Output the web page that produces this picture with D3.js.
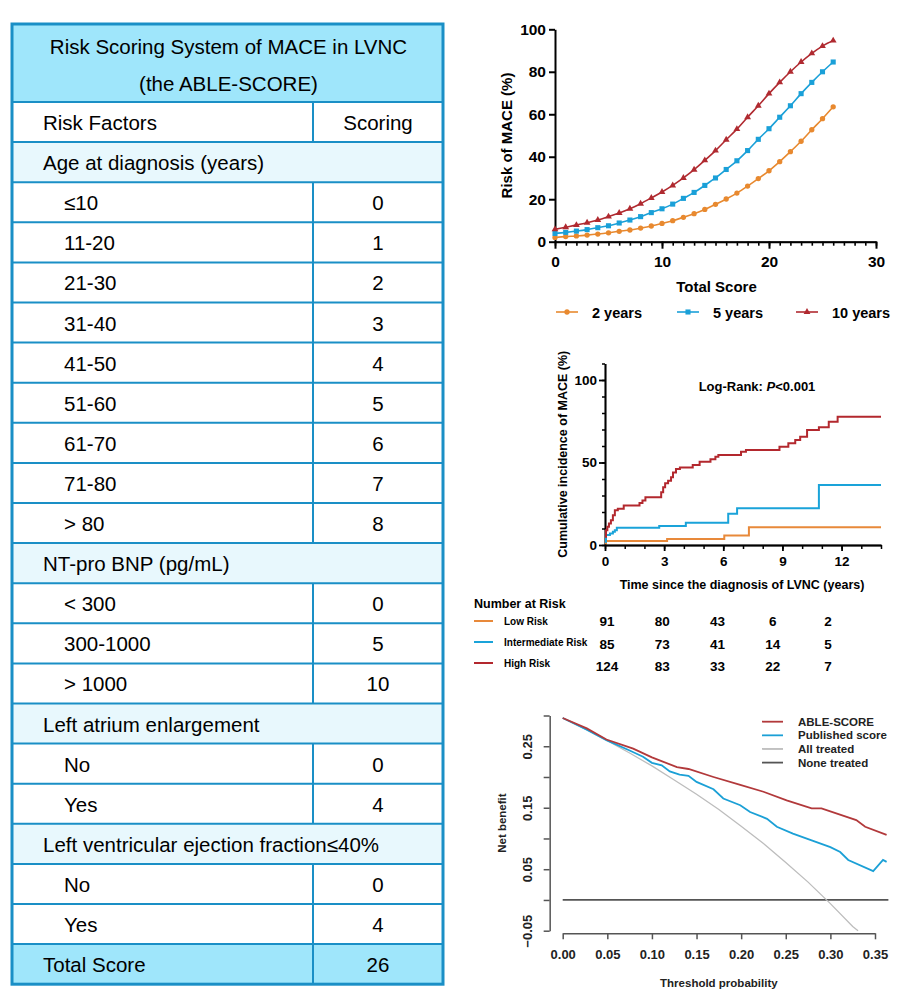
<!DOCTYPE html>
<html>
<head>
<meta charset="utf-8">
<script src="https://cdn.jsdelivr.net/npm/d3@7"></script>
<style>
  body { margin: 0; background: #fff; }
  svg { font-family: "Liberation Sans", Arial, sans-serif; }
  .bold text, text.bold { font-weight: bold; }
</style>
</head>
<body>
<svg id="fig" width="924" height="1002"></svg>
<script>
// ---- table data ----
const tableTitle = ['Risk Scoring System of MACE in LVNC', '(the ABLE-SCORE)'];
const rowLabels = ['Risk Factors', 'Age at diagnosis (years)', '≤10', '11-20', '21-30', '31-40', '41-50',
  '51-60', '61-70', '71-80', '> 80', 'NT-pro BNP (pg/mL)', '< 300', '300-1000', '> 1000',
  'Left atrium enlargement', 'No', 'Yes', 'Left ventricular ejection fraction≤40%', 'No', 'Yes', 'Total Score'];
const rowScores = ['Scoring', '', '0', '1', '2', '3', '4', '5', '6', '7', '8', '', '0', '5', '10',
  '', '0', '4', '', '0', '4', '26'];
const rowKinds = ['head', 'section', 'item', 'item', 'item', 'item', 'item', 'item', 'item', 'item', 'item',
  'section', 'item', 'item', 'item', 'section', 'item', 'item', 'section', 'item', 'item', 'total'];

// ---- risk curve data (total score 0..26) ----
const scores = d3.range(0, 27);
const risk2y = [2.0, 2.4, 2.7, 3.1, 3.6, 4.2, 4.9, 5.5, 6.4, 7.4, 8.6, 9.9, 11.5, 13.2, 15.2, 17.6, 20.1,
  22.9, 26.2, 29.7, 33.4, 37.7, 42.4, 47.3, 52.7, 57.9, 63.5];
const risk5y = [3.9, 4.4, 5.0, 5.7, 6.6, 7.5, 8.8, 10.2, 11.8, 13.7, 15.5, 17.7, 20.4, 23.2, 26.5, 30.0,
  34.0, 38.1, 42.9, 48.2, 53.2, 58.6, 64.0, 69.7, 75.0, 80.0, 84.6];
const risk10y = [5.8, 6.8, 7.8, 8.9, 10.2, 11.8, 13.5, 15.5, 17.9, 20.6, 23.4, 26.5, 30.0, 33.9, 38.3,
  42.9, 48.0, 53.0, 58.6, 64.0, 69.7, 75.0, 80.0, 84.6, 88.7, 92.1, 94.7];

// ---- Kaplan-Meier data (time in years, cumulative incidence %) ----
const kmLowT = [0, 0.05, 3.15, 6.05, 7.3, 14];
const kmLowV = [1, 2.4, 3.6, 5.7, 10.7, 10.7];
const kmIntT = [0, 0.05, 0.25, 0.4, 0.5, 0.6, 2.75, 4.1, 6.25, 6.7, 10.85, 14];
const kmIntV = [2, 6, 7, 8, 9, 10.5, 11.5, 13.5, 19, 22.2, 36.4, 36.4];
const kmHighT = [0, 0.05, 0.12, 0.2, 0.3, 0.4, 0.5, 0.65, 0.95, 1.75, 1.9, 2.05, 2.85, 2.95, 3.05, 3.2,
  3.35, 3.45, 3.6, 3.8, 4.45, 4.8, 5.35, 5.6, 5.75, 6.9, 7.15, 8.85, 9.3, 9.65, 9.9, 10.25, 10.85, 11.35, 11.8, 14];
const kmHighV = [5, 9, 11, 13, 15, 18, 21, 22, 24, 25.5, 27, 29, 32, 35, 37.5, 39, 41, 44, 46, 47, 48.5,
  50.5, 52, 53.5, 54.5, 56.5, 57.6, 59.6, 61.6, 63.6, 65.6, 69.7, 71.3, 74.7, 77.8, 77.8];

// ---- number at risk ----
const riskTimes = [0, 3, 6, 9, 12];
const riskGroups = ['Low Risk', 'Intermediate Risk', 'High Risk'];
const atRiskLow = [91, 80, 43, 6, 2];
const atRiskInt = [85, 73, 41, 14, 5];
const atRiskHigh = [124, 83, 33, 22, 7];

// ---- decision curve data ----
const dcaLabels = ['ABLE-SCORE', 'Published score', 'All treated', 'None treated'];
const ableT = [0, 0.027, 0.049, 0.079, 0.1, 0.128, 0.141, 0.169, 0.199, 0.225, 0.251, 0.279, 0.29, 0.329, 0.339, 0.363];
const ableV = [0.296, 0.279, 0.261, 0.246, 0.232, 0.216, 0.213, 0.200, 0.187, 0.176, 0.162, 0.149, 0.149, 0.130, 0.119, 0.106];
const pubT = [0, 0.027, 0.049, 0.075, 0.09, 0.1, 0.111, 0.12, 0.131, 0.141, 0.15, 0.169, 0.18, 0.199, 0.21,
  0.229, 0.24, 0.258, 0.279, 0.3, 0.311, 0.32, 0.348, 0.359, 0.363];
const pubV = [0.296, 0.277, 0.260, 0.243, 0.233, 0.223, 0.219, 0.209, 0.204, 0.202, 0.192, 0.180, 0.165, 0.154,
  0.143, 0.132, 0.119, 0.108, 0.097, 0.086, 0.078, 0.065, 0.047, 0.065, 0.062];
const allT = [0, 0.025, 0.05, 0.075, 0.1, 0.125, 0.15, 0.175, 0.2, 0.225, 0.25, 0.275, 0.3, 0.325, 0.331];
const allV = [0.296, 0.278, 0.259, 0.239, 0.218, 0.195, 0.172, 0.147, 0.120, 0.092, 0.061, 0.029, -0.006, -0.043, -0.05];
const noneT = [0, 0.365];
const noneV = [0, 0];

const svg = d3.select('#fig');

/* ================= table ================= */
const tbl = { x0: 12, x1: 443, xDiv: 313, top: 24, headH: 78, rowH: 40.1 };
const border = '#1a8fc6';
const fillHead = '#9fe6fb', fillSec = '#e8f8fd';
const T = svg.append('g');
const rowY = d3.scaleLinear().domain([0, rowLabels.length]).range([tbl.top + tbl.headH, tbl.top + tbl.headH + tbl.rowH * rowLabels.length]);

T.append('rect').attr('x', tbl.x0).attr('y', tbl.top).attr('width', tbl.x1 - tbl.x0).attr('height', tbl.headH)
  .attr('fill', fillHead);
T.selectAll('rect.row').data(rowKinds).enter().append('rect').attr('class', 'row')
  .attr('x', tbl.x0).attr('y', (d, i) => rowY(i)).attr('width', tbl.x1 - tbl.x0).attr('height', tbl.rowH)
  .attr('fill', d => d === 'section' ? fillSec : d === 'total' ? fillHead : '#fff');
// horizontal lines
T.selectAll('line.h').data(d3.range(rowLabels.length)).enter().append('line')
  .attr('x1', tbl.x0).attr('x2', tbl.x1).attr('y1', i => rowY(i)).attr('y2', i => rowY(i))
  .attr('stroke', border).attr('stroke-width', 2);
// column divider
T.selectAll('line.v').data(rowKinds).enter().append('line')
  .attr('x1', tbl.xDiv).attr('x2', tbl.xDiv).attr('y1', (d, i) => rowY(i)).attr('y2', (d, i) => rowY(i + 1))
  .attr('stroke', d => d === 'section' ? 'none' : border).attr('stroke-width', 2);
T.append('rect').attr('x', tbl.x0).attr('y', tbl.top).attr('width', tbl.x1 - tbl.x0)
  .attr('height', rowY(rowLabels.length) - tbl.top).attr('fill', 'none').attr('stroke', border).attr('stroke-width', 3);

T.selectAll('text.title').data(tableTitle).enter().append('text')
  .attr('x', (tbl.x0 + tbl.x1) / 2 + 1).attr('y', (d, i) => tbl.top + 30 + i * 37)
  .attr('text-anchor', 'middle').attr('font-size', 20.5).text(d => d);
T.selectAll('text.lab').data(rowLabels).enter().append('text')
  .attr('x', (d, i) => rowKinds[i] === 'item' ? 64 : 43).attr('y', (d, i) => rowY(i) + 28)
  .attr('font-size', 20.5).text(d => d);
T.selectAll('text.sc').data(rowScores).enter().append('text')
  .attr('x', 378).attr('y', (d, i) => rowY(i) + 28)
  .attr('text-anchor', 'middle').attr('font-size', 20.5).text(d => d);

/* ================= risk curves ================= */
const c2 = '#e8892f', c5 = '#1aa0d8', c10 = '#b02a30';
const x1 = d3.scaleLinear().domain([0, 30]).range([555, 876]);
const y1 = d3.scaleLinear().domain([0, 100]).range([241.7, 29.3]);
const g1 = svg.append('g');

function styleAxis(g, w, col) {
  g.selectAll('path, line').attr('stroke', col || '#000').attr('stroke-width', w);
  g.selectAll('text').attr('font-weight', 'bold').attr('fill', '#000');
}
g1.append('g').attr('transform', `translate(0,${y1(0)})`)
  .call(d3.axisBottom(x1).tickValues(d3.range(0, 31)).tickSize(4).tickFormat('').tickSizeOuter(0))
  .call(g => styleAxis(g, 1.6));
g1.append('g').attr('transform', `translate(0,${y1(0)})`)
  .call(d3.axisBottom(x1).tickValues([0, 10, 20, 30]).tickSize(7).tickPadding(7).tickSizeOuter(0))
  .call(g => { styleAxis(g, 2); g.selectAll('text').attr('font-size', 15.5); });
g1.append('g').attr('transform', `translate(${x1(0)},0)`)
  .call(d3.axisLeft(y1).tickValues([0, 20, 40, 60, 80, 100]).tickSize(6).tickPadding(3).tickSizeOuter(0))
  .call(g => { styleAxis(g, 2); g.selectAll('text').attr('font-size', 15.5); });
g1.append('text').attr('class', 'bold').attr('x', x1(15) + 1).attr('y', 292).attr('text-anchor', 'middle')
  .attr('font-size', 15).text('Total Score');
g1.append('text').attr('class', 'bold').attr('transform', `translate(512,${y1(50)}) rotate(-90)`)
  .attr('text-anchor', 'middle').attr('font-size', 15).text('Risk of MACE (%)');

const line1 = d3.line().x((d, i) => x1(scores[i])).y(d => y1(d)).curve(d3.curveMonotoneX);
const riskSeries = [
  { v: risk2y, c: c2, m: d3.symbolCircle, s: 22, name: '2 years', lx: 556, tx: 592 },
  { v: risk5y, c: c5, m: d3.symbolSquare, s: 26, name: '5 years', lx: 677, tx: 713 },
  { v: risk10y, c: c10, m: d3.symbolTriangle, s: 20, name: '10 years', lx: 796, tx: 832 }
];
riskSeries.forEach(s => {
  g1.append('path').attr('d', line1(s.v)).attr('fill', 'none').attr('stroke', s.c).attr('stroke-width', 1.6);
  g1.selectAll(null).data(s.v).enter().append('path')
    .attr('d', d3.symbol().type(s.m).size(s.s))
    .attr('transform', (d, i) => `translate(${x1(scores[i])},${y1(d)})`).attr('fill', s.c);
  const ly = 312;
  g1.append('line').attr('x1', s.lx).attr('x2', s.lx + 22).attr('y1', ly).attr('y2', ly)
    .attr('stroke', s.c).attr('stroke-width', 1.6);
  g1.append('path').attr('d', d3.symbol().type(s.m).size(s.s)).attr('transform', `translate(${s.lx + 11},${ly})`)
    .attr('fill', s.c);
  g1.append('text').attr('class', 'bold').attr('x', s.tx).attr('y', ly + 5.5).attr('font-size', 14.5).text(s.name);
});

/* ================= Kaplan-Meier ================= */
const kLow = '#e8893a', kInt = '#1aa3d9', kHigh = '#b3282e';
const x2 = d3.scaleLinear().domain([0, 14]).range([605, 881]);
const y2 = d3.scaleLinear().domain([0, 110]).range([545, 363.5]);
const g2 = svg.append('g');
g2.append('g').attr('transform', `translate(0,${y2(0)})`)
  .call(d3.axisBottom(x2).tickValues(d3.range(0, 15)).tickSize(4).tickFormat('').tickSizeOuter(0))
  .call(g => styleAxis(g, 1.5));
g2.append('g').attr('transform', `translate(0,${y2(0)})`)
  .call(d3.axisBottom(x2).tickValues([0, 3, 6, 9, 12]).tickSize(6).tickPadding(5).tickSizeOuter(0))
  .call(g => { styleAxis(g, 1.8); g.selectAll('text').attr('font-size', 13.5); });
g2.append('g').attr('transform', `translate(${x2(0)},0)`)
  .call(d3.axisLeft(y2).tickValues(d3.range(0, 111, 10)).tickSize(3).tickFormat('').tickSizeOuter(0))
  .call(g => styleAxis(g, 1.5));
g2.append('g').attr('transform', `translate(${x2(0)},0)`)
  .call(d3.axisLeft(y2).tickValues([0, 50, 100]).tickSize(6).tickPadding(2).tickSizeOuter(0))
  .call(g => { styleAxis(g, 1.8); g.selectAll('text').attr('font-size', 13.5); });
g2.append('text').attr('class', 'bold').attr('x', 742).attr('y', 589).attr('text-anchor', 'middle')
  .attr('font-size', 12.5).text('Time since the diagnosis of LVNC (years)');
g2.append('text').attr('class', 'bold').attr('transform', `translate(567,${y2(55)}) rotate(-90)`)
  .attr('text-anchor', 'middle').attr('font-size', 12.5).text('Cumulative incidence of MACE (%)');
const lr = g2.append('text').attr('class', 'bold').attr('x', 757).attr('y', 391).attr('text-anchor', 'middle')
  .attr('font-size', 13);
lr.append('tspan').text('Log-Rank: ');
lr.append('tspan').attr('font-style', 'italic').text('P');
lr.append('tspan').text('<0.001');

const step = d3.line().x(d => x2(d[0])).y(d => y2(d[1])).curve(d3.curveStepAfter);
[[kmLowT, kmLowV, kLow], [kmIntT, kmIntV, kInt], [kmHighT, kmHighV, kHigh]].forEach(([t, v, c]) => {
  g2.append('path').attr('d', step(t.map((d, i) => [d, v[i]]))).attr('fill', 'none')
    .attr('stroke', c).attr('stroke-width', 2);
});

// number at risk table
const g3 = svg.append('g');
const xr = d3.scalePoint().domain(riskTimes).range([607, 828]);
const yr = d3.scalePoint().domain(riskGroups).range([621, 663]);
g3.append('text').attr('class', 'bold').attr('x', 474).attr('y', 608).attr('font-size', 12.5).text('Number at Risk');
const riskRows = [atRiskLow, atRiskInt, atRiskHigh];
const riskCols = [kLow, kInt, kHigh];
riskGroups.forEach((grp, gi) => {
  g3.append('line').attr('x1', 474).attr('x2', 493).attr('y1', yr(grp)).attr('y2', yr(grp))
    .attr('stroke', riskCols[gi]).attr('stroke-width', 2);
  g3.append('text').attr('class', 'bold').attr('x', 504).attr('y', yr(grp) + 3.5).attr('font-size', 10)
    .text(grp);
  g3.selectAll(null).data(riskRows[gi]).enter().append('text').attr('class', 'bold')
    .attr('x', (d, i) => xr(riskTimes[i])).attr('y', yr(grp) + 5 + gi * 1.5).attr('text-anchor', 'middle')
    .attr('font-size', 13.5).text(d => d);
});

/* ================= decision curve ================= */
const dRed = '#b2393b', dBlue = '#1ba0d6', dGray = '#bdbdbd', dDark = '#555';
const x4 = d3.scaleLinear().domain([0, 0.35]).range([562.7, 875]);
const y4 = d3.scaleLinear().domain([-0.05, 0.30]).range([930.7, 715.5]);
const g4 = svg.append('g');
const fmt2 = d3.format('.2f');
g4.append('g').attr('transform', `translate(${x4(-0.0146)},0)`)
  .call(d3.axisLeft(y4).tickValues(d3.range(-0.05, 0.301, 0.05)).tickSize(6).tickPadding(4)
    .tickFormat(d => Math.round(d * 100) % 10 !== 0 ? fmt2(d).replace('-', '\u2212') : '').tickSizeOuter(0))
  .call(g => {
    styleAxis(g, 1.5, dDark);
    g.selectAll('text').attr('font-size', 13).attr('fill', '#222')
      .attr('transform', 'rotate(-90)').attr('text-anchor', 'middle').attr('dy', 0).attr('x', 0)
      .attr('y', -18);
  });
g4.append('g').attr('transform', `translate(0,933.3)`)
  .call(d3.axisBottom(x4).tickValues(d3.range(0, 0.351, 0.05)).tickSize(6).tickPadding(10)
    .tickFormat(fmt2).tickSizeOuter(0))
  .call(g => { styleAxis(g, 1.5, dDark); g.selectAll('text').attr('font-size', 13).attr('fill', '#222'); });
g4.append('text').attr('class', 'bold').attr('x', x4(0.175)).attr('y', 987).attr('text-anchor', 'middle')
  .attr('font-size', 11.5).attr('fill', '#222').text('Threshold probability');
g4.append('text').attr('class', 'bold').attr('transform', `translate(506,${y4(0.125)}) rotate(-90)`)
  .attr('text-anchor', 'middle').attr('font-size', 11.5).attr('fill', '#222').text('Net benefit');

const line4 = d3.line().x(d => x4(d[0])).y(d => y4(d[1]));
const dcaSeries = [[noneT, noneV, dDark], [allT, allV, dGray], [pubT, pubV, dBlue], [ableT, ableV, dRed]];
dcaSeries.forEach(([t, v, c]) => {
  g4.append('path').attr('d', line4(t.map((d, i) => [d, v[i]]))).attr('fill', 'none')
    .attr('stroke', c).attr('stroke-width', c === dGray ? 1.3 : 1.8);
});
const ly4 = d3.scalePoint().domain(dcaLabels).range([721.7, 762.6]);
const legCols = [dRed, dBlue, dGray, dDark];
dcaLabels.forEach((lab, i) => {
  g4.append('line').attr('x1', 762).attr('x2', 783).attr('y1', ly4(lab)).attr('y2', ly4(lab))
    .attr('stroke', legCols[i]).attr('stroke-width', 1.8);
  g4.append('text').attr('class', 'bold').attr('x', 798).attr('y', ly4(lab) + 4).attr('font-size', 11.5)
    .attr('fill', '#222').text(lab);
});
</script>
</body>
</html>
